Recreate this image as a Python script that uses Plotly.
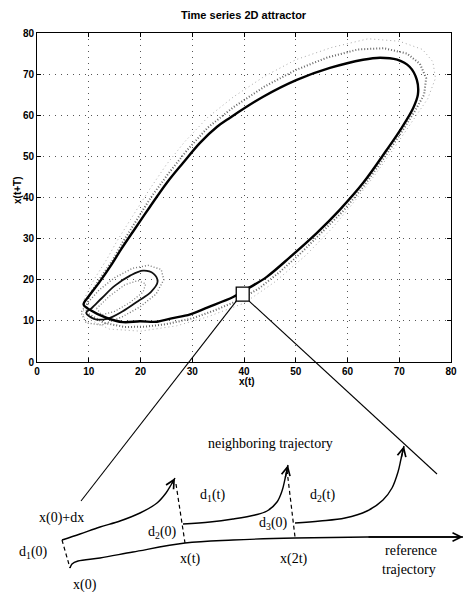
import plotly.graph_objects as go

W, H = 469, 592

# ---------------- main chart data ----------------
x_ticks = [0, 10, 20, 30, 40, 50, 60, 70, 80]
y_ticks = [0, 10, 20, 30, 40, 50, 60, 70, 80]

# core trajectory of the big loop
core_x = [10.2, 13.5, 16.6, 19.9, 23.2, 26.0, 29.6, 33.0, 37.9, 41.2, 44.4, 48.9, 54.1, 58.5, 63.0,
          67.6, 70.5, 72.6, 73.6, 73.4, 72.0, 69.6, 66.3, 63.0, 56.6, 50.2, 43.7, 37.3, 34.8, 31.5,
          28.2, 25.1, 21.8, 18.6, 16.3, 14.2, 12.0, 10.0, 9.0, 10.2]
core_y = [12.7, 10.7, 9.7, 9.9, 9.8, 10.6, 11.6, 13.3, 15.8, 18.2, 20.7, 25.5, 31.4, 37.0, 43.5,
          51.6, 57.0, 61.5, 65.0, 68.6, 71.8, 73.5, 74.0, 73.5, 71.5, 68.6, 64.5, 59.4, 57.2, 53.3,
          48.4, 43.6, 37.7, 31.8, 27.5, 23.3, 19.3, 16.0, 14.0, 12.7]

# second dense track, slightly outside
band_x = [9.5, 13.0, 17.0, 21.0, 25.0, 30.0, 34.0, 39.0, 43.0, 47.0, 51.0, 55.0, 59.0, 63.0, 67.0,
          70.5, 73.0, 74.8, 75.2, 74.0, 71.5, 67.0, 62.0, 56.0, 50.0, 44.0, 38.0, 33.0, 29.0, 25.5,
          22.0, 19.0, 16.5, 14.5, 12.0, 10.0, 9.5]
band_y = [12.0, 9.5, 8.5, 8.6, 9.2, 10.6, 12.4, 15.0, 18.0, 22.0, 26.5, 31.5, 36.5, 42.5, 49.5,
          56.0, 61.0, 65.0, 69.0, 72.5, 75.0, 76.3, 76.0, 74.0, 71.0, 67.0, 62.0, 57.0, 51.5, 46.0,
          40.0, 34.0, 29.0, 24.5, 20.0, 16.0, 12.0]

# sparse outer scatter
outer_x = [9.0, 14.0, 20.0, 27.0, 33.0, 40.0, 46.0, 52.0, 57.0, 61.0, 65.0, 69.0, 72.5, 75.5, 77.0,
           76.5, 74.5, 70.0, 64.0, 57.0, 50.0, 44.0, 38.0, 33.0, 28.5, 25.0, 21.5, 18.5, 15.5, 13.5,
           11.0, 9.0, 9.0]
outer_y = [11.0, 8.0, 7.5, 8.8, 11.0, 14.3, 19.5, 26.0, 32.5, 38.5, 45.0, 52.0, 58.5, 64.0, 69.0,
           73.0, 76.0, 78.0, 78.6, 76.5, 73.5, 69.5, 64.5, 59.5, 53.5, 48.0, 41.5, 35.5, 29.5, 25.0,
           20.0, 15.0, 11.0]

# small loop tracks
small1_x = [10.5, 12.5, 15.0, 18.0, 20.5, 22.5, 23.3, 22.0, 19.5, 16.5, 13.5, 11.0, 9.5, 10.5]
small1_y = [13.0, 15.5, 18.5, 21.0, 22.2, 21.5, 19.5, 17.0, 14.8, 12.3, 10.5, 10.5, 12.0, 13.0]
small2_x = [9.5, 12.0, 15.0, 18.5, 21.5, 24.0, 24.5, 23.0, 20.0, 16.5, 12.5, 9.5, 8.5, 9.5]
small2_y = [14.0, 17.5, 20.5, 22.8, 23.5, 22.5, 20.0, 16.5, 13.5, 11.0, 9.0, 9.5, 12.0, 14.0]
small3_x = [11.5, 14.0, 17.0, 19.5, 21.0, 20.5, 18.0, 15.0, 12.5, 11.5]
small3_y = [13.0, 16.0, 18.8, 19.8, 19.0, 17.0, 14.5, 12.3, 11.5, 13.0]

# zoom box (data units)
box_x = [38.5, 41.0]
box_y = [14.8, 18.2]

# ---------------- diagram data (figure pixel space) ----------------
zoom_left_end = (81, 501)
zoom_right_end = (437, 474)

ref_x = [70, 72, 78, 100, 133, 185, 233, 295, 367, 463]
ref_y = [568, 564, 561, 558, 552, 543, 540, 538, 537, 537]

nb1_x = [62, 80, 100, 120, 140, 157, 166, 171, 175]
nb1_y = [540, 534, 527, 521, 513, 503, 493, 485, 478]
nb2_x = [183, 210, 233, 255, 267, 277, 282, 285, 288]
nb2_y = [524, 522, 519, 515, 511, 502, 491, 479, 465]
nb3_x = [295, 320, 345, 367, 383, 392, 398, 401, 404]
nb3_y = [523, 521, 518, 511, 500, 488, 472, 459, 446]

dash1_x, dash1_y = [62, 70], [540, 568]
dash2_x, dash2_y = [176, 185], [484, 543]
dash3_x, dash3_y = [287, 295], [470, 537]

labels = [
    ("x(0)+dx", 61, 518), ("d<sub>1</sub>(0)", 33, 552), ("x(0)", 85, 585),
    ("d<sub>2</sub>(0)", 162, 532), ("d<sub>1</sub>(t)", 212, 495), ("x(t)", 190, 559),
    ("d<sub>3</sub>(0)", 273, 523), ("d<sub>2</sub>(t)", 322, 495), ("x(2t)", 294, 559),
    ("reference", 411, 550), ("trajectory", 409, 569), ("neighboring trajectory", 270, 443),
]

# ---------------- layout geometry ----------------
PX_L, PX_R, PX_T, PX_B = 37, 451, 33, 362


def to_px(x, y):
    return (PX_L + x / 80 * (PX_R - PX_L), PX_B - y / 80 * (PX_B - PX_T))


fig = go.Figure()

fig.add_trace(go.Scatter(x=outer_x, y=outer_y, mode="lines", line=dict(color="#aaaaaa", width=1, dash="1px,3px"),
                         xaxis="x", yaxis="y", hoverinfo="skip"))
fig.add_trace(go.Scatter(x=band_x, y=band_y, mode="lines", line=dict(color="#666666", width=2, dash="1px,2px"),
                         xaxis="x", yaxis="y", hoverinfo="skip"))
fig.add_trace(go.Scatter(x=small2_x, y=small2_y, mode="lines", line=dict(color="#777777", width=1.4, dash="1px,2px"),
                         xaxis="x", yaxis="y", hoverinfo="skip"))
fig.add_trace(go.Scatter(x=small3_x, y=small3_y, mode="lines", line=dict(color="#777777", width=1.2, dash="1px,2px"),
                         xaxis="x", yaxis="y", hoverinfo="skip"))
fig.add_trace(go.Scatter(x=small1_x, y=small1_y, mode="lines", line=dict(color="#111111", width=1.8, shape="spline"),
                         xaxis="x", yaxis="y", hoverinfo="skip"))
fig.add_trace(go.Scatter(x=core_x, y=core_y, mode="lines", line=dict(color="#000000", width=2.4, shape="spline"),
                         xaxis="x", yaxis="y", hoverinfo="skip"))

# zoom box
fig.add_shape(type="rect", xref="x", yref="y", x0=box_x[0], x1=box_x[1], y0=box_y[0], y1=box_y[1],
              line=dict(color="black", width=1.3), fillcolor="white")

# overlay (pixel space) traces
bl = to_px(box_x[0], box_y[0])
br = to_px(box_x[1], box_y[0])
line_kw = dict(mode="lines", xaxis="x2", yaxis="y2", hoverinfo="skip")
fig.add_trace(go.Scatter(x=[bl[0], zoom_left_end[0]], y=[bl[1], zoom_left_end[1]],
                         line=dict(color="black", width=1.1), **line_kw))
fig.add_trace(go.Scatter(x=[br[0], zoom_right_end[0]], y=[br[1], zoom_right_end[1]],
                         line=dict(color="black", width=1.1), **line_kw))
for cx, cy in [(ref_x, ref_y), (nb1_x, nb1_y), (nb2_x, nb2_y), (nb3_x, nb3_y)]:
    fig.add_trace(go.Scatter(x=cx, y=cy, line=dict(color="black", width=1.4, shape="spline"), **line_kw))
    fig.add_annotation(x=cx[-1], y=cy[-1], ax=cx[-2], ay=cy[-2], xref="x2", yref="y2", axref="x2", ayref="y2",
                       text="", showarrow=True, arrowhead=5, arrowsize=1.3, arrowwidth=1.3, arrowcolor="black")
for dx_, dy_ in [(dash1_x, dash1_y), (dash2_x, dash2_y), (dash3_x, dash3_y)]:
    fig.add_trace(go.Scatter(x=dx_, y=dy_, line=dict(color="black", width=1.2, dash="4px,3px"), **line_kw))

for txt, lx, ly in labels:
    fig.add_annotation(x=lx, y=ly, xref="x2", yref="y2", text=txt, showarrow=False,
                       font=dict(family="Liberation Serif", size=14, color="black"))

axis_font = dict(family="Liberation Sans", size=10, color="black")
fig.add_annotation(x=244, y=15, xref="x2", yref="y2", text="<b>Time series 2D attractor</b>", showarrow=False,
                   font=dict(family="Liberation Sans", size=11, color="black"))
fig.add_annotation(x=247, y=381, xref="x2", yref="y2", text="<b>x(t)</b>", showarrow=False, font=axis_font)
fig.add_annotation(x=17, y=190, xref="x2", yref="y2", text="<b>x(t+T)</b>", showarrow=False, font=axis_font,
                   textangle=-90)

fig.update_layout(
    width=W, height=H, margin=dict(l=0, r=0, t=0, b=0),
    paper_bgcolor="white", plot_bgcolor="rgba(0,0,0,0)", showlegend=False, template="none",
    xaxis=dict(domain=[PX_L / W, PX_R / W], range=[0, 80], tickvals=x_ticks,
               ticktext=[f"<b>{v}</b>" for v in x_ticks], tickfont=axis_font,
               showgrid=True, gridcolor="#555555", griddash="1px,5px", gridwidth=1, zeroline=False,
               showline=True, linecolor="black", linewidth=1, mirror="ticks", ticks="inside", ticklen=4,
               tickcolor="black", automargin=False, anchor="y"),
    yaxis=dict(domain=[1 - PX_B / H, 1 - PX_T / H], range=[0, 80], tickvals=y_ticks,
               ticktext=[f"<b>{v}</b>" for v in y_ticks], tickfont=axis_font,
               showgrid=True, gridcolor="#555555", griddash="1px,5px", gridwidth=1, zeroline=False,
               showline=True, linecolor="black", linewidth=1, mirror="ticks", ticks="inside", ticklen=4,
               tickcolor="black", automargin=False, anchor="x"),
    xaxis2=dict(domain=[0, 1], range=[0, W], visible=False, anchor="y2", fixedrange=True),
    yaxis2=dict(domain=[0, 1], range=[H, 0], visible=False, anchor="x2", fixedrange=True),
)

fig.write_html("out.html", config={"displayModeBar": False},
               post_script="document.body.style.margin='0';document.body.style.overflow='hidden';")
